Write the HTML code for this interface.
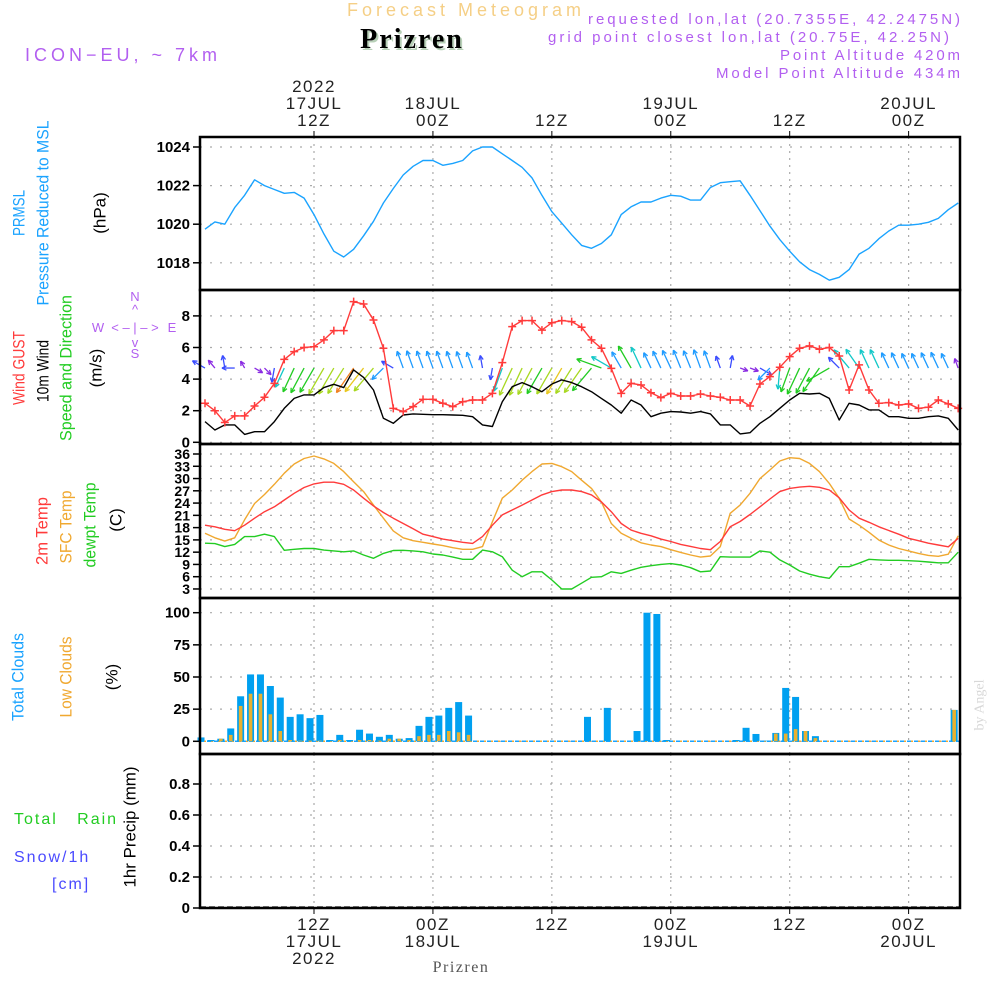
<!DOCTYPE html>
<html><head><meta charset="utf-8"><style>
html,body{margin:0;padding:0;background:#fff;}
svg{display:block;font-family:"Liberation Sans",sans-serif;}
</style></head><body>
<svg id="chart" width="1000" height="1000" viewBox="0 0 1000 1000" xmlns="http://www.w3.org/2000/svg">
<rect x="0" y="0" width="1000" height="1000" fill="#fff"/>
<text x="466" y="16" text-anchor="middle" font-size="18" letter-spacing="4" fill="#f5cf86">Forecast Meteogram</text>
<text x="414" y="50" text-anchor="middle" font-family="Liberation Serif,serif" font-weight="bold" font-size="28" letter-spacing="2" fill="#b8d0b8">Prizren</text>
<text x="412" y="48" text-anchor="middle" font-family="Liberation Serif,serif" font-weight="bold" font-size="28" letter-spacing="2" fill="#000">Prizren</text>
<text x="25" y="61" font-size="18" letter-spacing="4" fill="#b25ff0">ICON−EU, ~ 7km</text>
<g font-size="15" letter-spacing="3" fill="#b25ff0" text-anchor="end">
<text x="963" y="24" textLength="375" lengthAdjust="spacing">requested lon,lat (20.7355E, 42.2475N)</text>
<text x="952" y="42" textLength="404" lengthAdjust="spacing">grid point closest lon,lat (20.75E, 42.25N)</text>
<text x="963" y="60" textLength="183" lengthAdjust="spacing">Point Altitude 420m</text>
<text x="963" y="78" textLength="247" lengthAdjust="spacing">Model Point Altitude 434m</text>
</g>
<g font-size="17">
<text transform="translate(19,213) rotate(-90)" text-anchor="middle" dominant-baseline="central" fill="#1aa3ff" textLength="46" lengthAdjust="spacingAndGlyphs">PRMSL</text>
<text transform="translate(43,213) rotate(-90)" text-anchor="middle" dominant-baseline="central" fill="#1aa3ff" textLength="185" lengthAdjust="spacingAndGlyphs">Pressure Reduced to MSL</text>
<text transform="translate(100,213) rotate(-90)" text-anchor="middle" dominant-baseline="central" fill="#000">(hPa)</text>
<text transform="translate(19,368) rotate(-90)" text-anchor="middle" dominant-baseline="central" fill="#ff3b3b" textLength="74" lengthAdjust="spacingAndGlyphs">Wind GUST</text>
<text transform="translate(43,371) rotate(-90)" text-anchor="middle" dominant-baseline="central" fill="#000" textLength="62" lengthAdjust="spacingAndGlyphs">10m Wind</text>
<text transform="translate(66,368) rotate(-90)" text-anchor="middle" dominant-baseline="central" fill="#22cc22" textLength="146" lengthAdjust="spacingAndGlyphs">Speed and Direction</text>
<text transform="translate(96,368) rotate(-90)" text-anchor="middle" dominant-baseline="central" fill="#000">(m/s)</text>
<g font-size="13" fill="#b25ff0" text-anchor="middle">
<text x="135" y="301">N</text><text x="135" y="314">^</text><text x="135" y="332">&lt; – | – &gt;</text><text x="98" y="332">W</text><text x="172" y="332">E</text><text x="135" y="347">v</text><text x="135" y="358">S</text></g>
<text transform="translate(42,531) rotate(-90)" text-anchor="middle" dominant-baseline="central" fill="#ff3b3b" textLength="68" lengthAdjust="spacingAndGlyphs">2m Temp</text>
<text transform="translate(66,527) rotate(-90)" text-anchor="middle" dominant-baseline="central" fill="#f0a830" textLength="73" lengthAdjust="spacingAndGlyphs">SFC Temp</text>
<text transform="translate(90,525) rotate(-90)" text-anchor="middle" dominant-baseline="central" fill="#22cc22" textLength="85" lengthAdjust="spacingAndGlyphs">dewpt Temp</text>
<text transform="translate(116,520) rotate(-90)" text-anchor="middle" dominant-baseline="central" fill="#000">(C)</text>
<text transform="translate(18,677) rotate(-90)" text-anchor="middle" dominant-baseline="central" fill="#1aa3ff" textLength="88" lengthAdjust="spacingAndGlyphs">Total Clouds</text>
<text transform="translate(66,677) rotate(-90)" text-anchor="middle" dominant-baseline="central" fill="#f0a830" textLength="81" lengthAdjust="spacingAndGlyphs">Low Clouds</text>
<text transform="translate(112,677) rotate(-90)" text-anchor="middle" dominant-baseline="central" fill="#000">(%)</text>
<text x="14" y="824" font-size="16" letter-spacing="2" fill="#22cc22" xml:space="preserve">Total   Rain</text>
<text x="14" y="862" font-size="16" letter-spacing="2" fill="#4a4aff">Snow/1h</text>
<text x="52" y="889" font-size="16" letter-spacing="2" fill="#4a4aff">[cm]</text>
<text transform="translate(130,827) rotate(-90)" text-anchor="middle" dominant-baseline="central" fill="#000" textLength="121" lengthAdjust="spacingAndGlyphs">1hr Precip (mm)</text>
<text transform="translate(980,705) rotate(-90)" text-anchor="middle" dominant-baseline="central" font-family="Liberation Serif,serif" font-size="14" fill="#d8d8d8">by Angel</text>
</g>
<g id="grid"></g>
<g id="marks"></g>
<g id="frame"></g>
<text x="461" y="972" text-anchor="middle" font-family="Liberation Serif,serif" font-size="16" letter-spacing="1.5" fill="#555">Prizren</text>
</svg>
<script>
// ---- data (hourly, starting 01Z 17JUL 2022) ----
const pressure=[1019.74,1020.12,1020.0,1020.86,1021.5,1022.3,1022.0,1021.8,1021.6,1021.65,1021.35,1020.5,1019.5,1018.6,1018.3,1018.7,1019.4,1020.15,1021.1,1021.85,1022.55,1023.0,1023.3,1023.3,1023.05,1023.15,1023.3,1023.8,1024.0,1024.0,1023.65,1023.3,1022.95,1022.4,1021.5,1020.65,1020.05,1019.45,1018.9,1018.75,1019.0,1019.45,1020.5,1020.9,1021.15,1021.15,1021.35,1021.5,1021.45,1021.25,1021.25,1021.9,1022.15,1022.2,1022.25,1021.5,1020.7,1019.9,1019.2,1018.6,1018.05,1017.65,1017.4,1017.1,1017.25,1017.65,1018.45,1018.75,1019.25,1019.65,1019.95,1019.95,1020.0,1020.1,1020.3,1020.75,1021.1];
const windGust=[2.47,2.0,1.25,1.67,1.67,2.3,2.85,3.73,5.25,5.74,6.0,6.05,6.48,7.07,7.07,8.9,8.75,7.74,5.95,2.15,1.94,2.26,2.72,2.72,2.47,2.26,2.57,2.68,2.68,3.1,5.04,7.32,7.7,7.7,7.1,7.57,7.7,7.64,7.28,6.48,5.95,4.68,3.1,3.73,3.63,3.14,2.83,3.1,2.93,2.93,3.06,2.93,2.85,2.68,2.68,2.3,3.69,4.16,4.75,5.42,5.95,6.1,5.89,6.0,5.46,3.31,4.9,3.31,2.47,2.51,2.36,2.43,2.15,2.22,2.68,2.43,2.15];
const windSpeed=[1.31,0.78,1.1,1.1,0.5,0.67,0.67,1.31,2.15,2.78,3.0,3.0,3.46,3.67,3.46,4.58,4.11,3.31,1.52,1.2,1.73,1.8,1.77,1.75,1.75,1.73,1.71,1.62,1.1,1.0,2.57,3.52,3.78,3.52,3.2,3.69,3.95,3.78,3.52,3.2,2.78,2.36,1.84,2.68,2.36,1.62,1.84,1.94,1.92,1.84,1.94,1.8,1.1,1.1,0.53,0.61,1.2,1.62,2.15,2.68,3.1,3.06,3.1,2.78,1.41,2.47,2.36,2.05,2.05,1.62,1.62,1.52,1.52,1.62,1.67,1.52,0.78];
const windDir=[300,320,350,270,330,120,135,190,205,205,208,210,210,210,212,215,218,220,225,300,340,340,340,340,340,340,340,340,350,190,200,205,205,208,210,210,210,212,215,220,290,300,330,330,335,335,335,335,338,338,340,340,340,10,110,110,120,225,185,200,205,208,215,240,315,320,325,335,335,335,335,335,335,335,335,335,340];
const temp2m=[18.6,18.2,17.6,17.25,18.6,20.3,21.9,23.1,24.75,26.4,27.8,28.7,29.1,29.1,28.6,27.2,25.2,23.3,21.7,20.3,19.0,17.7,16.4,15.8,15.2,14.8,14.4,14.15,15.8,18.6,21.1,22.3,23.5,24.75,26.0,26.8,27.2,27.2,26.8,26.0,24.3,21.9,19.0,17.4,16.6,16.0,15.2,14.6,13.9,13.4,12.9,12.6,14.6,18.2,19.5,21.2,23.1,25.0,26.8,27.6,27.9,28.1,27.85,27.2,25.3,22.3,20.3,19.3,18.2,17.3,16.4,15.4,14.8,14.2,13.75,13.3,15.4];
const tempSfc=[16.6,15.5,14.7,15.5,19.9,23.9,26.1,28.6,31.3,33.55,34.9,35.5,34.8,33.7,31.7,29.2,26.8,23.5,20.3,17.2,15.5,14.8,14.4,14.0,13.6,13.1,12.7,12.7,13.35,19.45,25.2,27.2,29.6,31.7,33.55,33.7,32.9,31.7,29.6,27.6,24.3,19.0,16.6,15.4,14.3,13.75,13.35,12.6,11.95,11.3,10.8,11.05,13.35,21.5,23.5,26.4,30.0,32.1,34.3,35.1,34.9,33.7,31.7,28.8,25.2,20.1,18.6,16.85,14.95,13.75,12.9,12.3,11.7,11.2,11.0,11.5,16.0];
const dewpt=[14.2,14.1,13.35,13.9,15.8,15.8,16.4,15.8,12.45,12.7,12.9,12.9,12.5,12.3,12.1,12.3,11.3,10.5,11.7,12.4,12.45,12.3,12.1,11.55,11.3,10.8,10.25,10.25,12.5,12.1,10.9,7.6,6.0,7.2,7.2,5.2,3.0,3.0,4.4,5.85,6.0,7.2,6.8,7.6,8.3,8.7,9.0,9.2,8.85,8.2,7.2,7.4,10.9,10.8,10.8,10.8,12.3,12.0,10.1,8.85,7.4,6.6,6.0,5.6,8.45,8.45,9.3,10.25,10.1,10.0,10.0,9.9,9.8,9.6,9.4,9.4,12.0];
const totalClouds=[3,1,2,10,35,52,52,43,34,19,21,18,20.5,1,5,1,9,6,3.5,5,2,2.5,12,19,20,26,30.5,20,0,0,0,0,0,0,0,0,0,0,0,19,0,26,0,0,8,100,99,1,0,0,0,0,0,0,1,10.5,5.7,0.5,6.5,41.5,34.5,8,4,0,0,0,0,0,0,0,0,0,0,0,0,0,24.4];
const lowClouds=[0,0,2,5,27.5,37,37,21,8,1,0.5,0.5,0.5,0,1,0,1,1,0.5,2,2,1,4,5,5,8,7,5,0,0,0,0,0,0,0,0,0,0,0,0,0,0,0,0,0,0,0,0,0,0,0,0,0,0,0,0,0,0,6,6,9.5,8,2.5,0,0,0,0,0,0,0,0,0,0,0,0,0,24.4];
const precip=[];
const pressureTicks=[1018,1020,1022,1024];
const windTicks=[0,2,4,6,8];
const tempTicks=[3,6,9,12,15,18,21,24,27,30,33,36];
const cloudTicks=[0,25,50,75,100];
const precipTicks=[0,0.2,0.4,0.6,0.8];
const timeTickHours=[11,23,35,47,59,71];
const timeTopLabels=[["2022","17JUL","12Z"],["","18JUL","00Z"],["","","12Z"],["","19JUL","00Z"],["","","12Z"],["","20JUL","00Z"]];
const timeBottomLabels=[["12Z","17JUL","2022"],["00Z","18JUL",""],["12Z","",""],["00Z","19JUL",""],["12Z","",""],["00Z","20JUL",""]];

// ---- axes ----
const X0=200,X1=960;
const xOf=h=>205+9.91*h;
const xBar=h=>201+9.91*h;
const yP=v=>147+(1024-v)*19.3;
const yW=v=>442.3-v*15.8;
const yT=v=>454+(36-v)*4.09;
const yC=v=>741.3-v*1.286;
const yR=v=>908-v*155;
const panels=[[137,290],[290,444],[444,598],[598,754],[754,908]];
const NS="http://www.w3.org/2000/svg";
const grid=document.getElementById('grid'),marks=document.getElementById('marks'),frame=document.getElementById('frame');
function mk(parent,tag,attrs,txt){const e=document.createElementNS(NS,tag);for(const k in attrs)e.setAttribute(k,attrs[k]);if(txt!==undefined)e.textContent=txt;parent.appendChild(e);return e;}

timeTickHours.forEach((h,i)=>{
  panels.forEach(p=>{
    const l=mk(grid,'line',{x1:xOf(h),x2:xOf(h),y1:p[0],y2:p[1],stroke:'#aaa','stroke-width':1.2,'stroke-dasharray':'2,5'});
    
    
  });
  const tt=mk(frame,'line',{x1:xOf(h),x2:xOf(h),y1:131,y2:137,stroke:'#000'});
  
  
  const tb=mk(frame,'line',{x1:xOf(h),x2:xOf(h),y1:908,y2:914,stroke:'#000'});
  
  
  timeTopLabels[i].forEach((s,j)=>{ if(!s)return;
    const t=mk(frame,'text',{x:xOf(h),y:92+j*17,'text-anchor':'middle','font-size':17,fill:'#222','letter-spacing':'1.5'},s);
    
    
  });
  timeBottomLabels[i].forEach((s,j)=>{ if(!s)return;
    const t=mk(frame,'text',{x:xOf(h),y:930+j*17,'text-anchor':'middle','font-size':17,fill:'#222','letter-spacing':'1.5'},s);
    
    
  });
});
function yAxis(ticks,yf,name,fs){
  ticks.forEach(v=>{
    const y=yf(v);
    const g=mk(grid,'line',{x1:X0,x2:X1,y1:y,y2:y,stroke:'#aaa','stroke-width':1.2,'stroke-dasharray':'2,8'});
    
    
    const t=mk(frame,'line',{x1:X0-7,x2:X0,y1:y,y2:y,stroke:'#000','stroke-width':1.5});
    
    
    const l=mk(frame,'text',{x:X0-10,y:y+5,'text-anchor':'end','font-size':fs,fill:'#000','font-weight':'bold'},String(v));
    
    
  });
}
yAxis(pressureTicks,yP,'pressure',15);
yAxis(windTicks,yW,'wind',15);
yAxis(tempTicks,yT,'temp',14);
yAxis(cloudTicks,yC,'cloud',15);
yAxis(precipTicks,yR,'precip',15);

panels.forEach(p=>{
  const r=mk(frame,'rect',{x:X0,y:p[0],width:X1-X0,height:p[1]-p[0],fill:'none',stroke:'#000','stroke-width':2.5});
  
  
});

function line(arr,xf,yf,color,name){
  const pts=arr.map((v,i)=>xf(i).toFixed(1)+','+yf(v).toFixed(1)).join(' ');
  const pl=mk(marks,'polyline',{points:pts,fill:'none',stroke:color,'stroke-width':1.4,'stroke-linejoin':'round'});
  
  
}
line(pressure,xOf,yP,'#1aa3ff','pressure-line');

function windColor(s){
  if(s<1)return '#8a2be2'; if(s<1.5)return '#3a4cff'; if(s<2.0)return '#1e9bff';
  if(s<2.6)return '#12c8c8'; if(s<3.3)return '#22cc22'; if(s<3.8)return '#a8d820';
  if(s<4.3)return '#e8c820'; return '#f08020';
}
windDir.forEach((d,i)=>{
  const s=windSpeed[i];const len=Math.min(30,4+8*s);
  const a=d*Math.PI/180;const x0=xOf(i),y0=yW(4.7);
  const x1=x0+len*Math.sin(a),y1=y0-len*Math.cos(a);
  const c=windColor(s);
  const g=mk(marks,'g',{stroke:c,'stroke-width':1.3,fill:'none'});
  
  
  mk(g,'line',{x1:x0,y1:y0,x2:x1,y2:y1});
  const hl=5;
  [a+Math.PI-0.45,a+Math.PI+0.45].forEach(b=>{
    mk(g,'line',{x1:x1,y1:y1,x2:x1+hl*Math.sin(b),y2:y1-hl*Math.cos(b)});
  });
});
line(windSpeed,xOf,yW,'#000','wind-speed-line');
line(windGust,xOf,yW,'#ff3b3b','wind-gust-line');
windGust.forEach((v,i)=>{
  const x=xOf(i),y=yW(v);
  const p=mk(marks,'path',{d:`M${x-4},${y}H${x+4}M${x},${y-4}V${y+4}`,stroke:'#ff3b3b','stroke-width':1.5});
  
  
});

line(tempSfc,xOf,yT,'#f0a830','sfc-temp-line');
line(temp2m,xOf,yT,'#ff3b3b','temp-2m-line');
line(dewpt,xOf,yT,'#22cc22','dewpt-line');

const zb=mk(marks,'line',{x1:X0,x2:X1,y1:yC(0),y2:yC(0),stroke:'#1aa3ff','stroke-width':1.5,'stroke-dasharray':'4,3'});


const zb2=mk(marks,'line',{x1:X0+4,x2:X1,y1:yC(0),y2:yC(0),stroke:'#f0a830','stroke-width':1.5,'stroke-dasharray':'2,5'});


totalClouds.forEach((v,i)=>{
  if(v<=0)return;
  const r=mk(marks,'rect',{x:xBar(i)-3.5,y:yC(v),width:7,height:yC(0)-yC(v),fill:'#00a0f0'});
  
  
});
lowClouds.forEach((v,i)=>{
  if(v<=0)return;
  const r=mk(marks,'rect',{x:xBar(i)-1.8,y:yC(v),width:3.6,height:yC(0)-yC(v),fill:'#e8b030'});
  
  
});
const pz=mk(marks,'line',{x1:X0,x2:X1,y1:yR(0)-1,y2:yR(0)-1,stroke:'#444','stroke-width':1.5,'stroke-dasharray':'6,3'});


precip.forEach((v,i)=>{
  const r=mk(marks,'rect',{x:xBar(i)-3.5,y:yR(v),width:7,height:yR(0)-yR(v),fill:'#22cc22'});
  
  
});
</script>
</body></html>
